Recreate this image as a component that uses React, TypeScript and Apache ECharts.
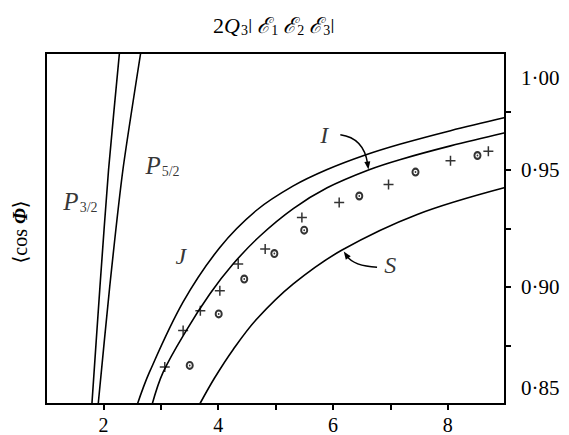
import React, { useEffect, useRef } from 'react';
import * as echarts from 'echarts';

// axis ticks and labels
const xTicks = [2, 3, 4, 5, 6, 7, 8];
const xLabels = [2, 4, 6, 8];
const yTicks = [0.875, 0.9, 0.925, 0.95, 0.975];
const yLabels = [0.9, 0.95];
const yCornerLabels = ['1·00', '0·85'];

// theory curves  [x, <cos Φ>]
const p32 = [[1.80, 0.85], [1.94, 0.9], [2.09, 0.95], [2.28, 1.0]];
const p52 = [[1.91, 0.85], [2.11, 0.9], [2.34, 0.95], [2.65, 1.0]];
const curveJ = [
  [2.58, 0.849], [2.805, 0.8637], [3.388, 0.8935], [4.03, 0.9169], [4.67, 0.9328],
  [5.31, 0.9432], [5.9, 0.9502], [6.54, 0.9562], [7.18, 0.9611], [8.05, 0.9668], [9.0, 0.9724],
];
const curveI = [
  [2.84, 0.849], [3.04, 0.8635], [3.447, 0.8815], [3.855, 0.897], [4.26, 0.9098],
  [4.73, 0.9218], [5.31, 0.9335], [5.9, 0.9424], [6.62, 0.95], [7.18, 0.9545],
  [8.05, 0.9603], [9.0, 0.9659],
];
const curveS = [
  [3.68, 0.85], [3.94, 0.8612], [4.26, 0.8732], [4.67, 0.8862], [5.31, 0.9013],
  [6.16, 0.9158], [7.47, 0.931], [9.0, 0.9425],
];

// measured points
const plusPts = [
  [3.07, 0.8658], [3.39, 0.8814], [3.69, 0.8899], [4.03, 0.8984], [4.35, 0.9098],
  [4.82, 0.9162], [5.46, 0.9297], [6.11, 0.9361], [6.97, 0.9438], [8.05, 0.954], [8.71, 0.958],
];
const circlePts = [
  [3.505, 0.8665], [4.01, 0.8885], [4.455, 0.9034], [4.98, 0.9143], [5.5, 0.9243],
  [6.46, 0.9389], [7.44, 0.9491], [8.52, 0.9562],
];

// curve labels [x, y]
const labelNames = ['P32', 'P52', 'J', 'I', 'S'];
const labelPos = [[1.6, 0.9366], [3.03, 0.9519], [3.35, 0.9132], [5.85, 0.9651], [7.0, 0.9094]];

// arrows: tail, control, tip
const arrowI = [[6.13, 0.9651], [6.54, 0.9637], [6.62, 0.9502]];
const arrowS = [[6.77, 0.9084], [6.36, 0.9091], [6.19, 0.9152]];

const FONT = '"Liberation Serif", "DejaVu Serif", serif';

const PLUS = 'path://M4.25,0 H5.75 V4.25 H10 V5.75 H5.75 V10 H4.25 V5.75 H0 V4.25 H4.25 Z';
const RING =
  'path://M5,0 A5,5 0 1,1 5,10 A5,5 0 1,1 5,0 Z M5,2.4 A2.6,2.6 0 1,0 5,7.6 A2.6,2.6 0 1,0 5,2.4 Z M5,3.9 A1.1,1.1 0 1,1 5,6.1 A1.1,1.1 0 1,1 5,3.9 Z';

const labelText: Record<string, string> = {
  P32: '{pp|P}{s|3/2}',
  P52: '{pp|P}{s|5/2}',
  J: '{p|J}',
  I: '{p|I}',
  S: '{p|S}',
};

export default function App() {
  const ref = useRef<HTMLDivElement>(null);
  useEffect(() => {
    if (!ref.current) return;
    const chart = echarts.init(ref.current, null, { renderer: 'svg' });
    const lineStyle = { color: '#000', width: 1.6 };
    const curve = (name: string, data: number[][], smooth: number | boolean) => ({
      name,
      type: 'line',
      data,
      smooth,
      symbol: 'none',
      lineStyle,
      clip: true,
      silent: true,
    });
    const option: any = {
      animation: false,
      backgroundColor: '#fff',
      textStyle: { fontFamily: FONT, color: '#000' },
      title: {
        text:
          '{n|2}{i|Q}{s|3}{n|ǀ}{e|\u2130}{s|1}{e|\u2130}{s|2}{e|\u2130}{s|3}{n|ǀ}',
        left: 208,
        top: 8,
        textStyle: {
          fontWeight: 'normal',
          rich: {
            n: { fontFamily: FONT, fontSize: 22, fontWeight: 'normal', color: '#000', lineHeight: 24 },
            i: { fontFamily: FONT, fontSize: 22, fontStyle: 'italic', fontWeight: 'normal', color: '#000', lineHeight: 24 },
            e: { fontFamily: FONT, fontSize: 22, fontStyle: 'italic', fontWeight: 'normal', color: '#000', lineHeight: 24, padding: [0, 0, 0, 5] },
            s: { fontFamily: FONT, fontSize: 14, fontWeight: 'normal', color: '#000', lineHeight: 16, verticalAlign: 'bottom', padding: [6, 0, 0, 1] },
          },
        },
      },
      grid: {
        left: 46,
        right: 64,
        top: 53,
        bottom: 30,
        show: true,
        borderColor: '#000',
        borderWidth: 2,
        backgroundColor: 'transparent',
      },
      xAxis: {
        type: 'value',
        min: 1,
        max: 9,
        splitLine: { show: false },
        axisLine: { show: true, lineStyle: { color: '#000', width: 2 } },
        axisTick: { show: true, length: 6, customValues: xTicks, lineStyle: { color: '#000', width: 2 } },
        axisLabel: {
          show: true,
          customValues: xLabels,
          fontFamily: FONT,
          fontSize: 20,
          color: '#000',
          margin: 11,
        },
      },
      yAxis: {
        type: 'value',
        position: 'right',
        min: 0.85,
        max: 1.0,
        splitLine: { show: false },
        axisLine: { show: true, lineStyle: { color: '#000', width: 2 } },
        axisTick: { show: true, length: 6, customValues: yTicks, lineStyle: { color: '#000', width: 2 } },
        axisLabel: {
          show: true,
          customValues: yLabels,
          fontFamily: FONT,
          fontSize: 21,
          color: '#000',
          margin: 16,
          formatter: (v: number) => v.toFixed(2).replace('.', '·'),
        },
      },
      series: [
        curve('P3/2', p32, 0.2),
        curve('P5/2', p52, 0.2),
        curve('J', curveJ, 0.35),
        curve('I', curveI, 0.35),
        curve('S', curveS, 0.35),
        {
          name: 'plus',
          type: 'scatter',
          data: plusPts,
          symbol: PLUS,
          symbolSize: 10,
          itemStyle: { color: '#000' },
          silent: true,
        },
        {
          name: 'circle',
          type: 'scatter',
          data: circlePts,
          symbol: RING,
          symbolSize: [8, 9],
          itemStyle: { color: '#000' },
          silent: true,
        },
        {
          name: 'labels',
          type: 'scatter',
          symbolSize: 0,
          silent: true,
          data: labelNames.map((n, k) => ({ name: n, value: labelPos[k] })),
          label: {
            show: true,
            position: 'inside',
            formatter: (p: any) => labelText[p.name],
            rich: {
              p: { fontFamily: FONT, fontSize: 24, fontStyle: 'italic', color: '#000', lineHeight: 26 },
              pp: { fontFamily: FONT, fontSize: 25, fontStyle: 'italic', color: '#000', lineHeight: 26 },
              s: { fontFamily: FONT, fontSize: 14, color: '#000', lineHeight: 15, verticalAlign: 'bottom', padding: [9, 0, 0, 1] },
            },
          },
        },
      ],
    };
    chart.setOption(option);

    const px = (pt: number[]) => chart.convertToPixel({ gridIndex: 0 }, pt) as number[];
    const makeArrow = (a: number[][]) => {
      const [t, c, h] = a.map(px);
      const dx = h[0] - c[0];
      const dy = h[1] - c[1];
      const len = Math.sqrt(dx * dx + dy * dy) || 1;
      const ux = dx / len;
      const uy = dy / len;
      const L = 8;
      const W = 3;
      const bx = h[0] - ux * L;
      const by = h[1] - uy * L;
      return [
        {
          type: 'bezierCurve',
          shape: { x1: t[0], y1: t[1], cpx1: c[0], cpy1: c[1], x2: bx + ux * 2, y2: by + uy * 2 },
          style: { stroke: '#000', lineWidth: 1.5, fill: 'none' },
          silent: true,
        },
        {
          type: 'polygon',
          shape: {
            points: [
              [h[0], h[1]],
              [bx - uy * W, by + ux * W],
              [bx + uy * W, by - ux * W],
            ],
          },
          style: { fill: '#000' },
          silent: true,
        },
      ];
    };
    const right = px([9, 0.9])[0];
    const graphic: any[] = [
      ...makeArrow(arrowI),
      ...makeArrow(arrowS),
      {
        type: 'text',
        x: right + 16,
        y: 78,
        style: { text: yCornerLabels[0], fontFamily: FONT, fontSize: 21, fill: '#000', verticalAlign: 'middle' },
        silent: true,
      },
      {
        type: 'text',
        x: right + 16,
        y: 388,
        style: { text: yCornerLabels[1], fontFamily: FONT, fontSize: 21, fill: '#000', verticalAlign: 'middle' },
        silent: true,
      },
      {
        type: 'text',
        x: 20,
        y: 232,
        rotation: Math.PI / 2,
        style: {
          text: '⟨cos {f|Φ}⟩',
          fontFamily: FONT,
          fontSize: 20,
          fill: '#000',
          align: 'center',
          verticalAlign: 'middle',
          rich: {
            f: { fontFamily: FONT, fontSize: 20, fontStyle: 'italic', fontWeight: 'bold', fill: '#000' },
          },
        },
        silent: true,
      },
    ];
    chart.setOption({ graphic });
    return () => chart.dispose();
  }, []);
  return (
    <div
      ref={ref}
      style={{ position: 'fixed', left: 0, top: 0, width: 569, height: 435, background: '#fff' }}
    />
  );
}
